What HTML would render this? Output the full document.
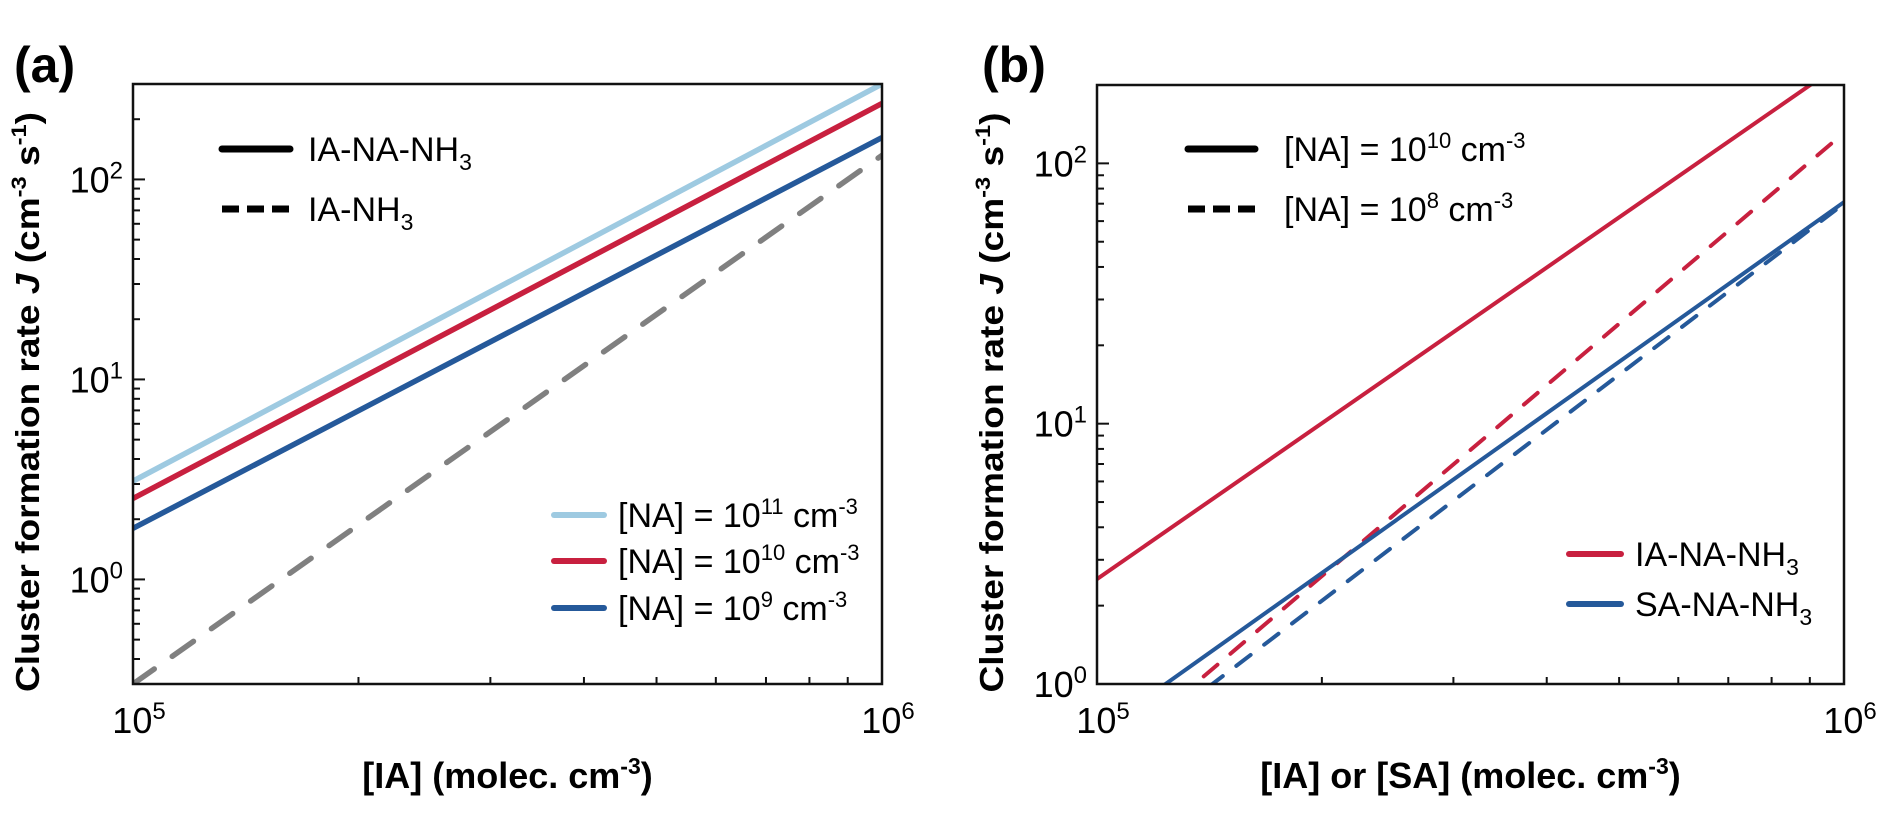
<!DOCTYPE html>
<html><head><meta charset="utf-8"><style>
html,body{margin:0;padding:0;background:#fff;}
svg text{font-family:"Liberation Sans",Arial,sans-serif;}
</style></head><body>
<svg id="fig" width="1892" height="811" viewBox="0 0 1892 811" xmlns="http://www.w3.org/2000/svg"></svg>
<script>
// ---- data: panel (a) ----
const aXDomain = [1e5, 1e6];
const aYDomain = [0.3, 300];
const aSeriesNames = ["NA 1e11", "NA 1e10", "NA 1e9", "IA-NH3"];
const aStartValues = [3.1, 2.54, 1.8, 0.3];   // J at [IA]=1e5
const aEndValues = [300, 240, 162, 132];      // J at [IA]=1e6
const aColors = ["#9ecae1", "#c8203f", "#25599a", "#808080"];
const aDashed = [false, false, false, true];
// ---- data: panel (b) ----
const bXDomain = [1e5, 1e6];
const bYDomain = [1, 200];
const bSeriesNames = ["IA-NA-NH3 1e10", "IA-NA-NH3 1e8", "SA-NA-NH3 1e10", "SA-NA-NH3 1e8"];
const bStartValues = [2.53, 0.48, 0.65, 0.46];
const bEndValues = [246, 131, 71, 70];
const bColors = ["#c8203f", "#c8203f", "#25599a", "#25599a"];
const bDashed = [false, true, false, true];
const yTicksA = [1, 10, 100];
const yTicksB = [1, 10, 100];

const NS = "http://www.w3.org/2000/svg";
const svg = document.getElementById("fig");
function mk(tag, attrs, parent) {
  const e = document.createElementNS(NS, tag);
  for (const k in attrs) e.setAttribute(k, attrs[k]);
  (parent || svg).appendChild(e);
  return e;
}
function logScale(d, r) {
  const l0 = Math.log10(d[0]), l1 = Math.log10(d[1]);
  return v => r[0] + (Math.log10(v) - l0) / (l1 - l0) * (r[1] - r[0]);
}

function panel(opts) {
  const {id, L, R, T, B, xd, yd, yTicks, starts, ends, colors, dashed, names, lw, dash, xTitle} = opts;
  const g = mk("g", {});
  
  
  const xs = logScale(xd, [L, R]);
  const ys = logScale(yd, [B, T]);
  const clip = mk("clipPath", {id: "clip" + id}, g);
  mk("rect", {x: L, y: T, width: R - L, height: B - T}, clip);
  for (let i = 0; i < starts.length; i++) {
    const ln = mk("line", {x1: xs(xd[0]), y1: ys(starts[i]), x2: xs(xd[1]), y2: ys(ends[i]),
      stroke: colors[i], "stroke-width": lw, "stroke-linecap": dashed[i] ? "round" : "butt",
      "clip-path": "url(#clip" + id + ")"}, g);
    if (dashed[i]) ln.setAttribute("stroke-dasharray", dash);
    
    
  }
  const fr = mk("rect", {x: L, y: T, width: R - L, height: B - T, fill: "none", stroke: "#111", "stroke-width": 2.5}, g);
  
  
  const dec0 = Math.floor(Math.log10(yd[0])), dec1 = Math.ceil(Math.log10(yd[1]));
  for (let d = dec0; d <= dec1; d++) {
    for (let m = 1; m <= 9; m++) {
      const v = m * Math.pow(10, d);
      if (v < yd[0] * 0.999 || v > yd[1] * 1.001) continue;
      const y = ys(v);
      mk("line", {x1: L, x2: L + (m === 1 ? 12 : 7), y1: y, y2: y, stroke: "#111", "stroke-width": 2}, g);
    }
  }
  yTicks.forEach(v => {
    const y = ys(v);
    const t = mk("text", {x: L - 10, y: y + 13, "text-anchor": "end", "font-size": 36}, g);
    
    
    t.innerHTML = '10<tspan dy="-14" font-size="24">' + Math.round(Math.log10(v)) + '</tspan>';
  });
  const xd0 = Math.log10(xd[0]);
  for (let m = 2; m <= 9; m++) {
    const x = xs(m * Math.pow(10, xd0));
    mk("line", {x1: x, x2: x, y1: B, y2: B - 7, stroke: "#111", "stroke-width": 2}, g);
  }
  [xd[0], xd[1]].forEach(v => {
    const t = mk("text", {x: xs(v) + 6, y: 733, "text-anchor": "middle", "font-size": 36}, g);
    
    
    t.innerHTML = '10<tspan dy="-14" font-size="24">' + Math.round(Math.log10(v)) + '</tspan>';
  });
  const xt = mk("text", {x: (L + R) / 2, y: 788, "text-anchor": "middle", "font-size": 36, "font-weight": "bold"}, g);
  
  
  xt.innerHTML = xTitle + ' (molec. cm<tspan dy="-14" font-size="23">-3</tspan><tspan dy="14">)</tspan>';
  const cx = L - 94, cy = (T + B) / 2 + 18;
  const yt = mk("text", {x: cx, y: cy, "text-anchor": "middle", "font-size": 33, "font-weight": "bold",
    textLength: 580, lengthAdjust: "spacingAndGlyphs",
    transform: "rotate(-90 " + cx + " " + cy + ")"}, g);
  
  
  yt.innerHTML = 'Cluster formation rate <tspan font-style="italic">J</tspan> (cm<tspan dy="-13" font-size="21">-3</tspan><tspan dy="13"> s</tspan><tspan dy="-13" font-size="21">-1</tspan><tspan dy="13">)</tspan>';
}

panel({id: "a", L: 133, R: 882, T: 84, B: 684, xd: aXDomain, yd: aYDomain, yTicks: yTicksA,
  starts: aStartValues, ends: aEndValues, colors: aColors, dashed: aDashed, names: aSeriesNames,
  lw: 5.5, dash: "26 22", xTitle: "[IA]"});
panel({id: "b", L: 1097, R: 1844, T: 85, B: 684, xd: bXDomain, yd: bYDomain, yTicks: yTicksB,
  starts: bStartValues, ends: bEndValues, colors: bColors, dashed: bDashed, names: bSeriesNames,
  lw: 4, dash: "18 17", xTitle: "[IA] or [SA]"});

function legendEntry(name, x1, x2, y, color, w, dashed, html, tx) {
  const g = mk("g", {});
  
  
  const l = mk("line", {x1: x1, x2: x2, y1: y, y2: y, stroke: color, "stroke-width": w, "stroke-linecap": "round"}, g);
  if (dashed) { l.setAttribute("stroke-dasharray", dashed); l.setAttribute("stroke-linecap", "butt"); }
  const t = mk("text", {x: tx, y: y + 12, "font-size": 34}, g);
  t.innerHTML = html;
}
const sub3 = '<tspan dy="9" font-size="23">3</tspan>';
function sup(s) { return '<tspan dy="-13" font-size="22">' + s + '</tspan><tspan dy="13"> cm</tspan><tspan dy="-13" font-size="22">-3</tspan>'; }
legendEntry("legend-ia-na-nh3-style", 222, 290, 149, "#000", 7, null, 'IA-NA-NH' + sub3, 308);
legendEntry("legend-ia-nh3-style", 222, 290, 209, "#000", 7, "17 8", 'IA-NH' + sub3, 308);
legendEntry("legend-na-1e11", 554, 604, 515, "#9ecae1", 6, null, '[NA] = 10' + sup('11'), 618);
legendEntry("legend-na-1e10", 554, 604, 561, "#c8203f", 6, null, '[NA] = 10' + sup('10'), 618);
legendEntry("legend-na-1e9", 554, 604, 608, "#25599a", 6, null, '[NA] = 10' + sup('9'), 618);
legendEntry("legend-na-1e10-style", 1188, 1255, 149, "#000", 7, null, '[NA] = 10' + sup('10'), 1284);
legendEntry("legend-na-1e8-style", 1188, 1255, 209, "#000", 7, "17 8", '[NA] = 10' + sup('8'), 1284);
legendEntry("legend-ia-na-nh3", 1569, 1621, 554, "#c8203f", 6, null, 'IA-NA-NH' + sub3, 1635);
legendEntry("legend-sa-na-nh3", 1569, 1621, 604, "#25599a", 6, null, 'SA-NA-NH' + sub3, 1635);

[["(a)", 14, "panel-label-a"], ["(b)", 982, "panel-label-b"]].forEach(p => {
  const t = mk("text", {x: p[1], y: 82, "font-size": 50, "font-weight": "bold"});
  t.textContent = p[0];
  
  
});
</script>
</body></html>
